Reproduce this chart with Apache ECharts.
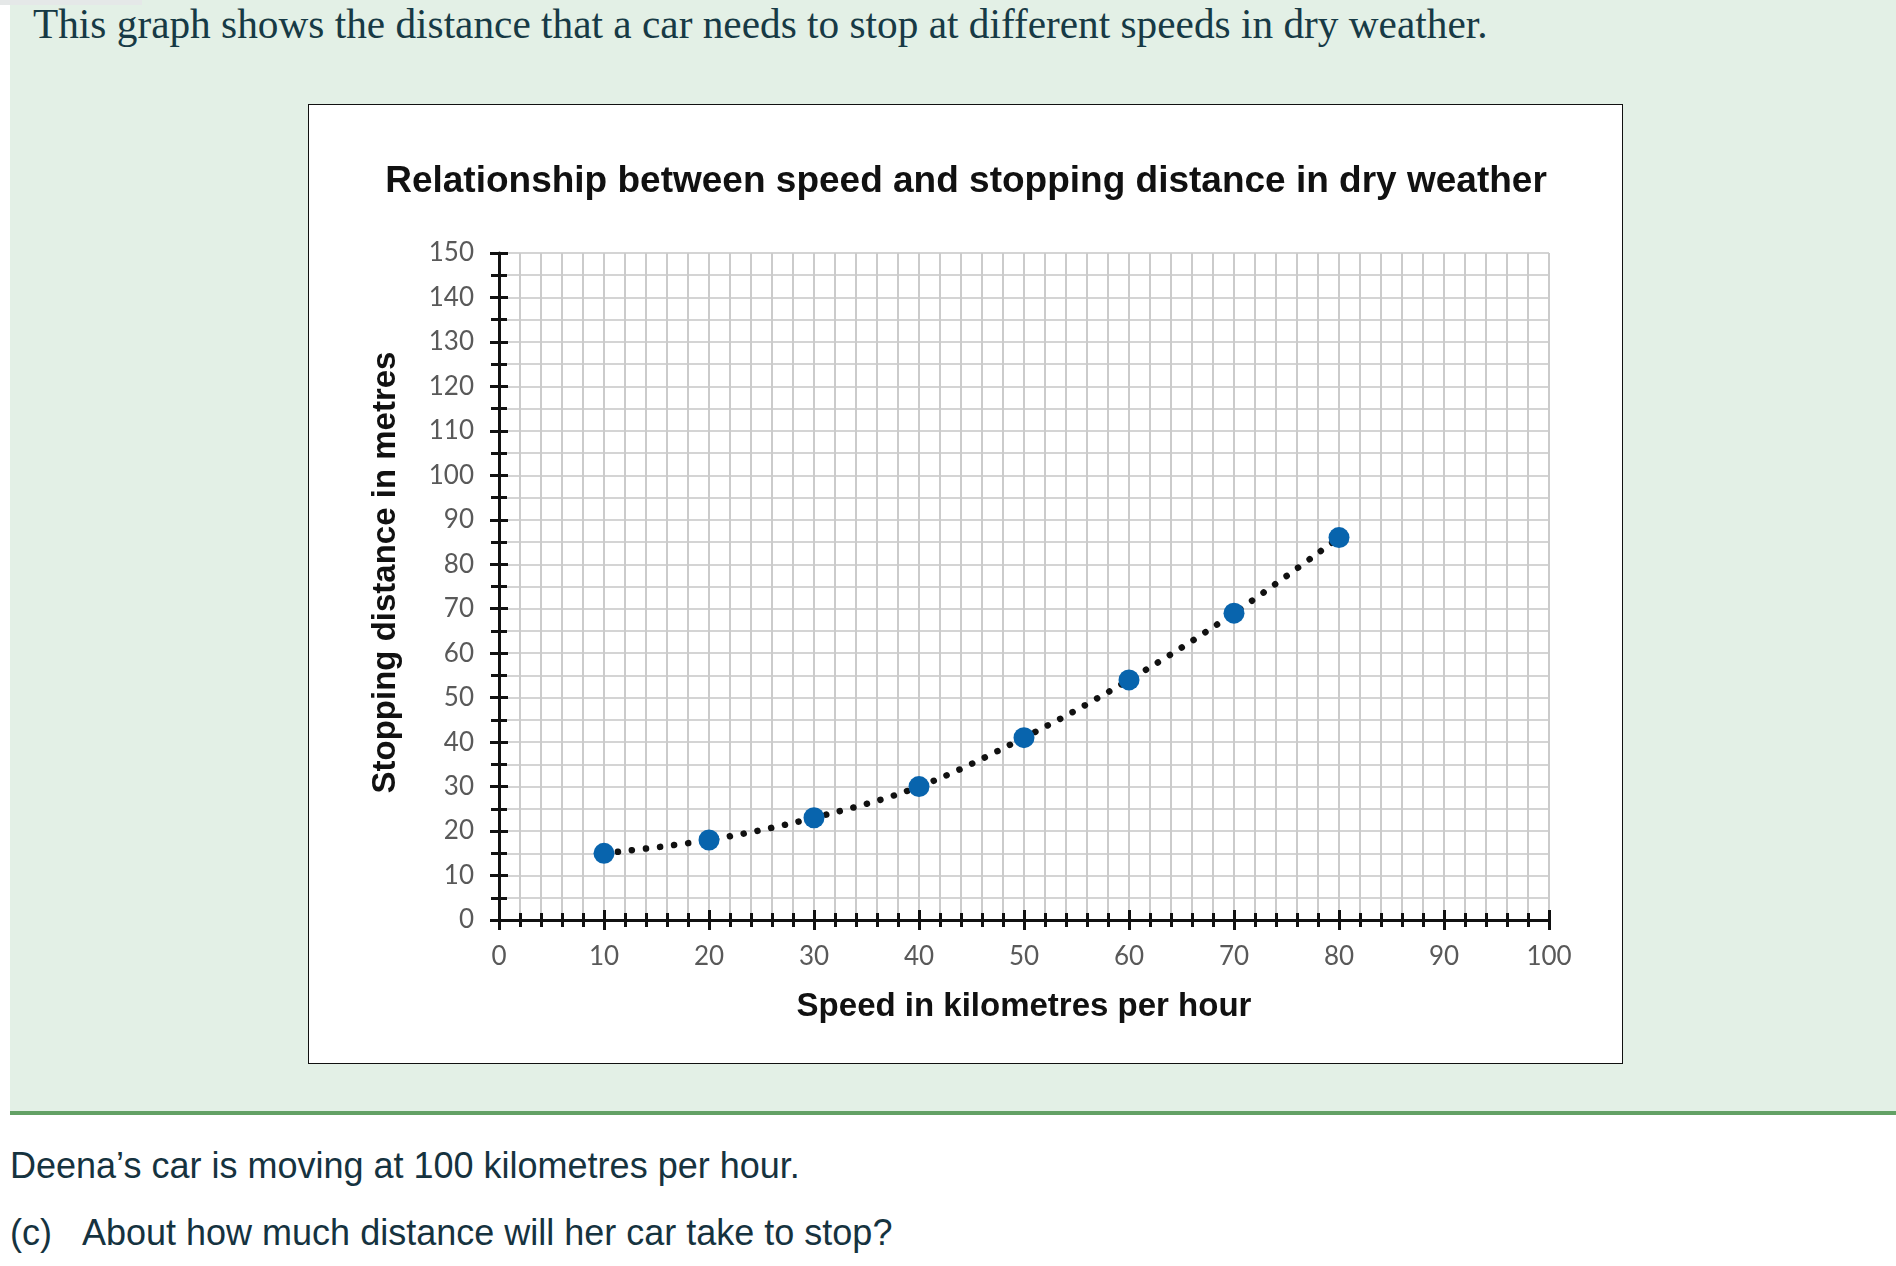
<!DOCTYPE html>
<html>
<head>
<meta charset="utf-8">
<title>Speed and stopping distance</title>
<script src="https://cdn.jsdelivr.net/npm/echarts@6/dist/echarts.min.js"></script>
<style>
  html, body {
    margin: 0;
    padding: 0;
    width: 1896px;
    height: 1266px;
    background: #fff;
    overflow: hidden;
    position: relative;
  }
  .panel {
    position: absolute;
    left: 10px;
    top: 0;
    width: 1886px;
    height: 1111px;
    background: #e3f0e6;
  }
  .panel-rule {
    position: absolute;
    left: 10px;
    top: 1111px;
    width: 1886px;
    height: 4px;
    background: #63a165;
  }
  .tab-patch {
    position: absolute;
    left: 0;
    top: 0;
    width: 142px;
    height: 5px;
    background: #e5e8e8;
  }
  .intro {
    position: absolute;
    left: 33px;
    top: 0;
    font-family: "Liberation Serif", "DejaVu Serif", serif;
    font-size: 41.3px;
    color: #173a45;
    white-space: nowrap;
  }
  .chart-box {
    position: absolute;
    left: 308px;
    top: 104px;
    width: 1313px;
    height: 958px;
    background: #fff;
    border: 1px solid #111;
  }
  .question {
    position: absolute;
    left: 10px;
    font-family: "Liberation Sans", Arial, sans-serif;
    font-size: 36px;
    color: #16333f;
    white-space: nowrap;
  }
  #chart {
    position: absolute;
    left: 0;
    top: 0;
    width: 1896px;
    height: 1266px;
  }
</style>
</head>
<body>
<div class="panel"></div>
<div class="tab-patch"></div>
<div class="panel-rule"></div>
<div class="intro">This graph shows the distance that a car needs to stop at different speeds in dry weather.</div>
<div class="chart-box"></div>
<div class="question" style="top:1145px">Deena’s car is moving at 100 kilometres per hour.</div>
<div class="question" style="top:1212px">(c)&nbsp;&nbsp;&nbsp;About how much distance will her car take to stop?</div>
<div id="chart"></div>
<script>
// 速度 (km/h) 与 停车距离 (m)
var speeds = [10, 20, 30, 40, 50, 60, 70, 80];
var distances = [15, 18, 23, 30, 41, 54, 69, 86];

var xMin = 0, xMax = 100, xStep = 10;
var yMin = 0, yMax = 150, yStep = 10;

var points = speeds.map(function (s, i) {
  return [s, distances[i]];
});

var labelFont = 'Lato, "Liberation Sans", sans-serif';
var boldFont = '"Liberation Sans", Arial, sans-serif';

var chart = echarts.init(document.getElementById('chart'), null, { renderer: 'canvas' });

var option = {
  animation: false,
  backgroundColor: 'transparent',
  title: {
    text: 'Relationship between speed and stopping distance in dry weather',
    left: 961,
    top: 158,
    textAlign: 'center',
    textStyle: {
      fontFamily: boldFont,
      fontWeight: 'bold',
      fontSize: 37,
      color: '#111'
    }
  },
  grid: {
    left: 499,
    top: 253,
    width: 1050,
    height: 667,
    containLabel: false
  },
  xAxis: [
    {
      type: 'value',
      min: xMin,
      max: xMax,
      interval: xStep,
      position: 'bottom',
      name: 'Speed in kilometres per hour',
      nameLocation: 'middle',
      nameGap: 70,
      nameTextStyle: {
        fontFamily: boldFont,
        fontWeight: 'bold',
        fontSize: 33,
        color: '#111'
      },
      axisLine: { show: true, onZero: false, lineStyle: { color: '#111', width: 3 } },
      axisTick: { show: true, inside: false, length: 10, lineStyle: { color: '#111', width: 3 } },
      minorTick: { show: true, splitNumber: 5, length: 7, lineStyle: { color: '#111', width: 3 } },
      axisLabel: {
        margin: 24,
        fontFamily: labelFont,
        fontSize: 26,
        color: '#595959'
      },
      splitLine: { show: true, lineStyle: { color: '#cbcbcb', width: 2 } },
      minorSplitLine: { show: true, lineStyle: { color: '#cbcbcb', width: 2 } }
    },
    {
      // 同一位置的第二条轴，用来画向内的刻度，让刻度穿过轴线
      type: 'value',
      min: xMin,
      max: xMax,
      interval: xStep,
      position: 'bottom',
      axisLine: { show: false },
      axisTick: { show: true, inside: true, length: 10, lineStyle: { color: '#111', width: 3 } },
      minorTick: { show: true, splitNumber: 5, length: 7, lineStyle: { color: '#111', width: 3 } },
      axisLabel: { show: false },
      splitLine: { show: false }
    }
  ],
  yAxis: [
    {
      type: 'value',
      min: yMin,
      max: yMax,
      interval: yStep,
      position: 'left',
      name: 'Stopping distance in metres',
      nameLocation: 'middle',
      nameGap: 97,
      nameTextStyle: {
        fontFamily: boldFont,
        fontWeight: 'bold',
        fontSize: 33,
        color: '#111',
        padding: [0, 0, 0, 28]
      },
      axisLine: { show: true, onZero: false, lineStyle: { color: '#111', width: 3 } },
      axisTick: { show: true, inside: false, length: 9, lineStyle: { color: '#111', width: 3 } },
      minorTick: { show: true, splitNumber: 2, length: 8, lineStyle: { color: '#111', width: 3 } },
      axisLabel: {
        margin: 25,
        fontFamily: labelFont,
        fontSize: 26,
        color: '#595959'
      },
      splitLine: { show: true, lineStyle: { color: '#d4d4d4', width: 2 } },
      minorSplitLine: { show: true, lineStyle: { color: '#d4d4d4', width: 2 } }
    },
    {
      type: 'value',
      min: yMin,
      max: yMax,
      interval: yStep,
      position: 'left',
      axisLine: { show: false },
      axisTick: { show: true, inside: true, length: 9, lineStyle: { color: '#111', width: 3 } },
      minorTick: { show: true, splitNumber: 2, length: 8, lineStyle: { color: '#111', width: 3 } },
      axisLabel: { show: false },
      splitLine: { show: false }
    }
  ],
  series: [
    {
      type: 'line',
      xAxisIndex: 0,
      yAxisIndex: 0,
      data: points,
      smooth: 0.35,
      symbol: 'circle',
      symbolSize: 21,
      showSymbol: true,
      itemStyle: { color: '#0864ad' },
      lineStyle: {
        color: '#111',
        width: 6.5,
        type: [0.1, 14],
        cap: 'round'
      },
      z: 3
    }
  ]
};

chart.setOption(option);
</script>
</body>
</html>
